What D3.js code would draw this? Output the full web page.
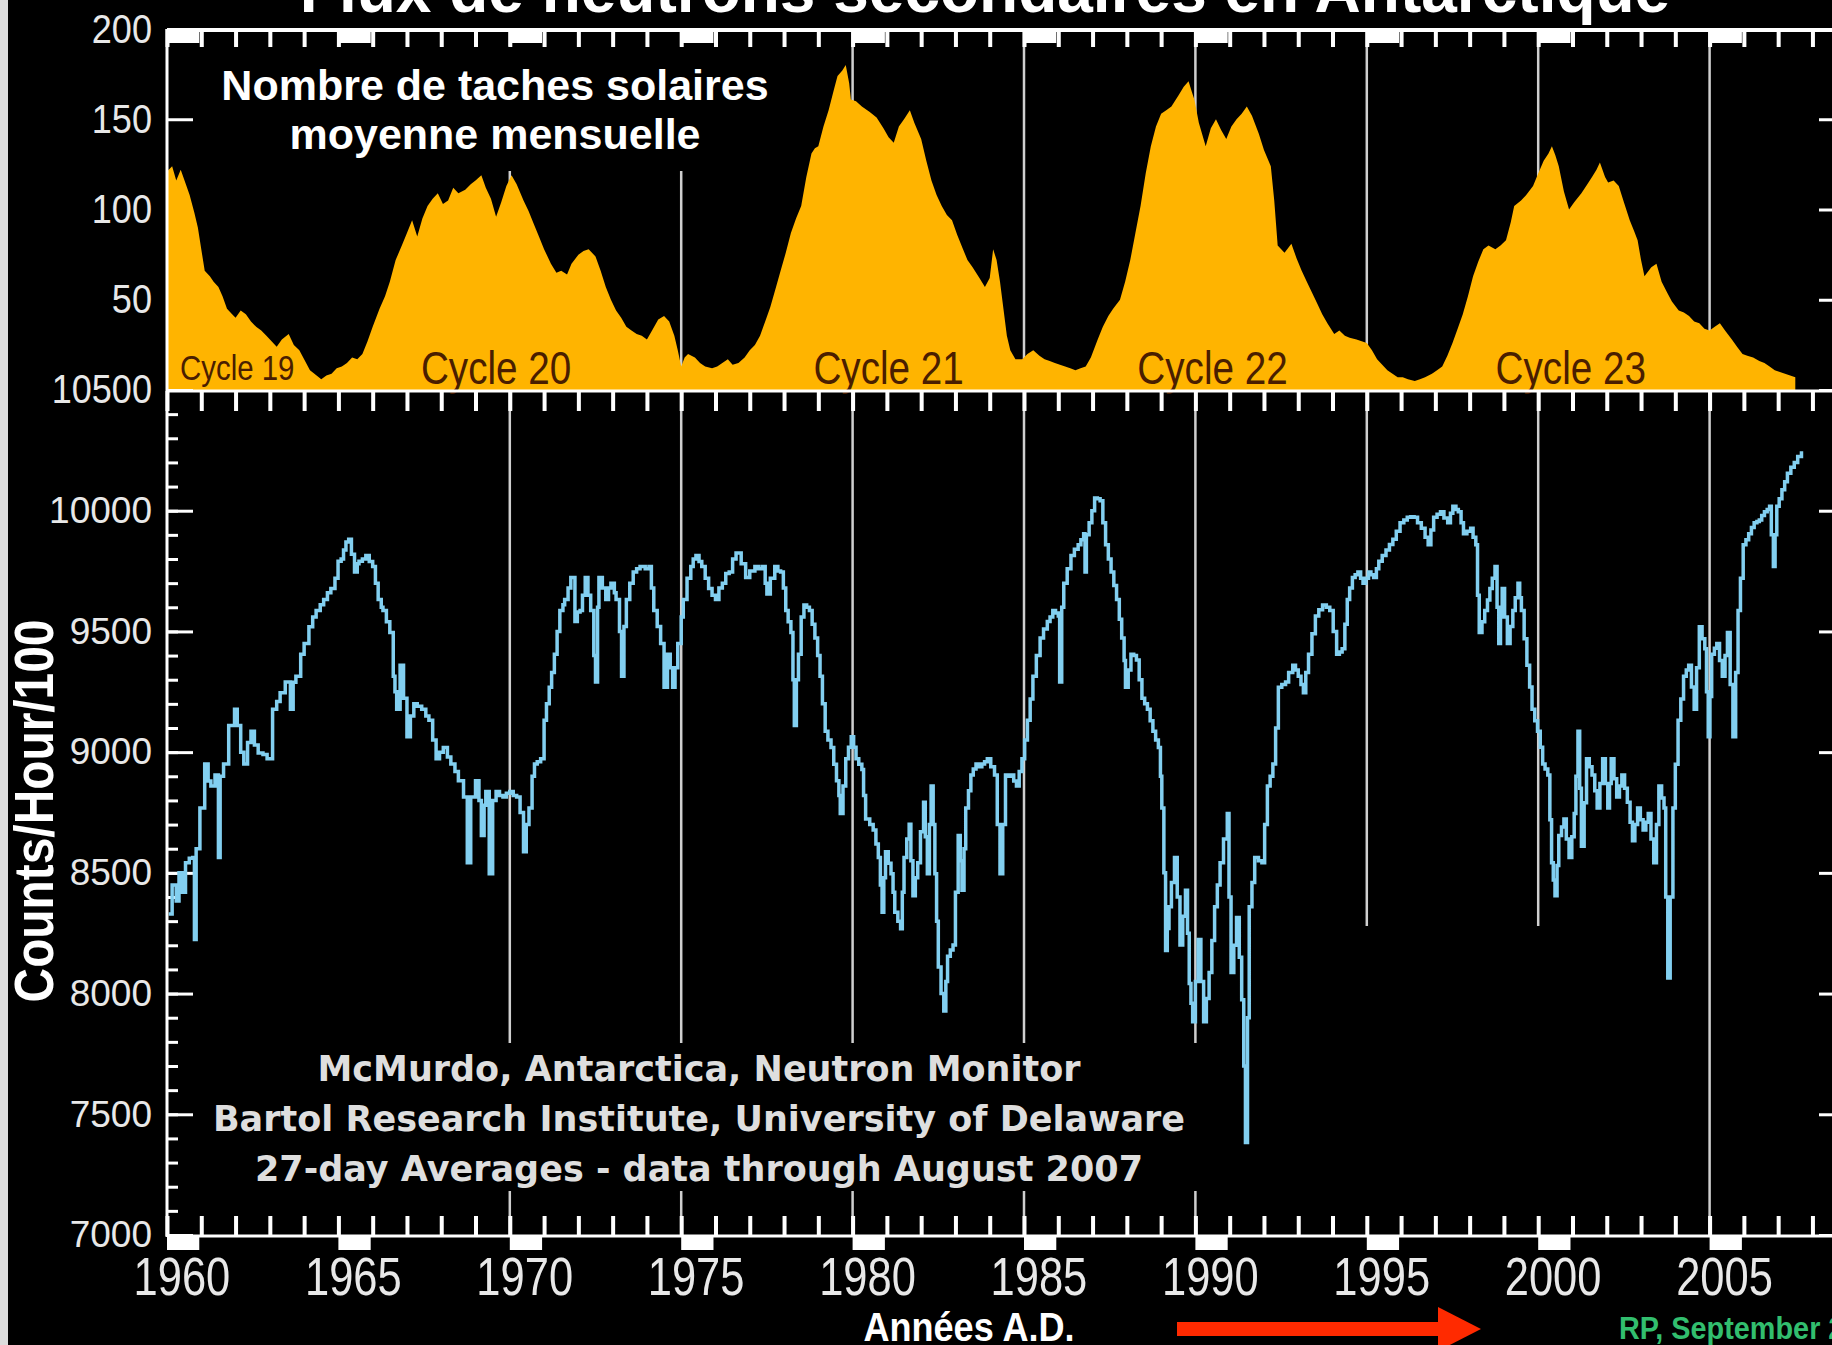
<!DOCTYPE html>
<html lang="fr">
<head>
<meta charset="UTF-8">
<title>Flux de neutrons secondaires en Antarctique</title>
<script src="https://d3js.org/d3.v7.min.js"></script>
<style>
  body { margin: 0; background: #000; }
  .chart { width: 1832px; height: 1345px; overflow: hidden; }
</style>
</head>
<body>
<div class="chart"></div>
<script>
// nombre de taches solaires, moyenne mensuelle
const sunYears = [
  1960.0,1960.15,1960.27,1960.4,1960.55,1960.66,1960.8,1960.9,1961.0,1961.1,1961.25,1961.36,1961.5,1961.62,1961.75,1961.9,
  1962.0,1962.15,1962.3,1962.45,1962.6,1962.75,1962.9,1963.05,1963.2,1963.35,1963.55,1963.7,1963.86,1964.0,1964.17,1964.3,
  1964.5,1964.65,1964.8,1964.95,1965.1,1965.25,1965.4,1965.55,1965.7,1965.85,1966.0,1966.2,1966.36,1966.5,1966.67,1966.85,
  1967.0,1967.15,1967.3,1967.45,1967.6,1967.75,1967.9,1968.05,1968.2,1968.35,1968.5,1968.7,1968.86,1969.0,1969.17,1969.3,
  1969.45,1969.6,1969.75,1969.9,1970.05,1970.2,1970.4,1970.55,1970.7,1970.85,1971.0,1971.2,1971.36,1971.5,1971.67,1971.8,
  1972.0,1972.15,1972.3,1972.5,1972.65,1972.8,1972.95,1973.1,1973.25,1973.4,1973.55,1973.7,1973.85,1974.0,1974.15,1974.33,
  1974.5,1974.65,1974.8,1974.9,1975.0,1975.1,1975.2,1975.4,1975.55,1975.7,1975.9,1976.05,1976.2,1976.36,1976.5,1976.67,
  1976.85,1977.0,1977.15,1977.3,1977.45,1977.6,1977.75,1977.9,1978.05,1978.2,1978.35,1978.5,1978.65,1978.8,1978.9,1979.0,
  1979.15,1979.3,1979.45,1979.56,1979.7,1979.8,1979.9,1979.95,1980.1,1980.27,1980.5,1980.7,1980.9,1981.05,1981.2,1981.35,
  1981.5,1981.67,1981.8,1982.0,1982.15,1982.3,1982.45,1982.6,1982.75,1982.9,1983.05,1983.2,1983.35,1983.5,1983.7,1983.86,
  1984.0,1984.1,1984.2,1984.3,1984.4,1984.5,1984.6,1984.75,1984.95,1985.1,1985.27,1985.45,1985.6,1985.75,1985.9,1986.05,
  1986.2,1986.35,1986.5,1986.65,1986.8,1986.95,1987.15,1987.3,1987.46,1987.6,1987.8,1987.95,1988.1,1988.25,1988.4,1988.55,
  1988.7,1988.85,1989.0,1989.15,1989.3,1989.5,1989.66,1989.8,1989.9,1989.97,1990.1,1990.3,1990.45,1990.6,1990.75,1990.9,
  1991.05,1991.2,1991.35,1991.5,1991.65,1991.85,1992.0,1992.2,1992.3,1992.4,1992.6,1992.8,1992.95,1993.1,1993.25,1993.4,
  1993.55,1993.7,1993.85,1994.05,1994.2,1994.36,1994.5,1994.7,1994.85,1995.0,1995.15,1995.3,1995.45,1995.6,1995.75,1995.9,
  1996.05,1996.2,1996.4,1996.55,1996.7,1996.9,1997.05,1997.2,1997.35,1997.5,1997.65,1997.8,1997.95,1998.1,1998.25,1998.4,
  1998.55,1998.75,1998.9,1999.06,1999.2,1999.3,1999.5,1999.65,1999.85,2000.0,2000.16,2000.3,2000.4,2000.5,2000.6,2000.75,
  2000.9,2001.05,2001.26,2001.4,2001.57,2001.7,2001.8,2001.95,2002.04,2002.2,2002.35,2002.5,2002.67,2002.8,2002.9,2003.0,
  2003.1,2003.3,2003.45,2003.6,2003.76,2003.9,2004.1,2004.25,2004.4,2004.55,2004.7,2004.85,2005.0,2005.15,2005.3,2005.45,
  2005.65,2005.8,2005.96,2006.1,2006.27,2006.45,2006.6,2006.75,2006.9,2007.05,2007.2,2007.35,2007.5
];
const sunValues = [
  121,124,116,122,114,108,98,90,78,66,63,60,57,52,45,42,
  40,44,42,38,35,33,30,27,24,28,31,25,22,17,11,9,
  6,8,9,12,13,15,18,17,20,27,35,45,52,60,72,80,
  87,94,85,95,102,106,109,103,105,112,109,111,114,116,119,112,
  106,96,104,113,119,114,105,99,92,85,78,70,65,66,64,70,
  75,77,78,74,66,57,50,44,40,35,33,31,30,28,33,39,
  41,38,30,22,13,18,20,18,15,13,12,13,15,17,14,15,
  18,22,25,30,38,46,56,66,76,87,95,102,118,131,134,135,
  146,155,166,174,177,180,170,161,160,157,154,151,145,140,137,146,
  150,155,148,139,127,116,108,102,97,94,86,79,72,68,62,57,
  62,78,72,60,45,30,22,17,17,20,22,19,17,16,15,14,
  13,12,11,12,13,18,28,35,41,45,50,60,72,87,102,120,
  135,146,153,155,157,163,168,171,165,161,148,135,145,150,144,139,
  146,150,153,157,152,142,133,124,105,80,76,81,73,66,60,54,
  48,42,37,31,33,30,29,28,27,26,22,17,14,11,9,7,
  7,6,5,6,7,9,11,13,19,26,34,42,52,63,71,78,
  80,78,80,83,93,102,105,108,113,120,127,131,135,130,124,110,
  100,104,109,113,118,122,126,118,115,116,113,104,94,88,83,72,
  63,68,70,60,54,49,44,43,41,38,37,34,33,35,37,33,
  28,24,20,19,18,16,15,13,11,10,9,8,7
];

// McMurdo, moyennes sur 27 jours (coups/heure/100)
const nmYears = [
  1960.05,1960.15,1960.27,1960.35,1960.45,1960.54,1960.65,1960.75,1960.8,1960.85,1960.96,1961.1,1961.2,1961.28,1961.4,1961.5,
  1961.55,1961.65,1961.8,1961.97,1962.05,1962.15,1962.24,1962.35,1962.45,1962.55,1962.66,1962.8,1962.92,1963.08,1963.2,1963.3,
  1963.45,1963.6,1963.68,1963.76,1963.9,1964.0,1964.14,1964.25,1964.35,1964.47,1964.57,1964.68,1964.78,1964.9,1964.99,1965.08,
  1965.15,1965.22,1965.3,1965.38,1965.47,1965.55,1965.6,1965.7,1965.8,1965.9,1966.0,1966.08,1966.16,1966.25,1966.3,1966.4,
  1966.5,1966.6,1966.65,1966.7,1966.8,1966.9,1967.0,1967.1,1967.2,1967.3,1967.43,1967.55,1967.64,1967.75,1967.85,1967.95,
  1968.06,1968.18,1968.28,1968.4,1968.5,1968.65,1968.76,1968.86,1969.0,1969.1,1969.17,1969.25,1969.3,1969.4,1969.5,1969.6,
  1969.7,1969.8,1969.9,1970.0,1970.1,1970.2,1970.3,1970.4,1970.48,1970.56,1970.65,1970.72,1970.8,1970.9,1971.0,1971.07,
  1971.15,1971.22,1971.3,1971.38,1971.46,1971.55,1971.6,1971.7,1971.78,1971.9,1971.97,1972.05,1972.12,1972.2,1972.28,1972.36,
  1972.45,1972.5,1972.56,1972.6,1972.7,1972.8,1972.88,1972.95,1973.05,1973.1,1973.2,1973.26,1973.33,1973.4,1973.5,1973.6,
  1973.7,1973.8,1973.95,1974.06,1974.13,1974.2,1974.3,1974.4,1974.5,1974.6,1974.68,1974.75,1974.82,1974.9,1975.0,1975.06,
  1975.17,1975.28,1975.35,1975.43,1975.52,1975.6,1975.7,1975.8,1975.9,1976.0,1976.1,1976.2,1976.3,1976.4,1976.5,1976.6,
  1976.75,1976.88,1977.0,1977.15,1977.25,1977.36,1977.45,1977.5,1977.6,1977.73,1977.82,1977.9,1977.98,1978.05,1978.12,1978.2,
  1978.26,1978.3,1978.36,1978.42,1978.5,1978.58,1978.66,1978.74,1978.82,1978.9,1978.98,1979.05,1979.12,1979.2,1979.28,1979.37,
  1979.45,1979.53,1979.6,1979.64,1979.72,1979.8,1979.88,1979.96,1980.03,1980.1,1980.18,1980.27,1980.32,1980.38,1980.5,1980.6,
  1980.68,1980.75,1980.81,1980.86,1980.91,1980.96,1981.04,1981.12,1981.18,1981.23,1981.32,1981.4,1981.45,1981.5,1981.58,1981.65,
  1981.7,1981.76,1981.83,1981.9,1981.98,1982.07,1982.12,1982.18,1982.24,1982.29,1982.35,1982.4,1982.45,1982.5,1982.58,1982.66,
  1982.72,1982.77,1982.85,1982.93,1983.0,1983.08,1983.14,1983.19,1983.25,1983.3,1983.38,1983.45,1983.52,1983.6,1983.7,1983.77,
  1983.85,1983.93,1984.03,1984.14,1984.22,1984.3,1984.38,1984.46,1984.55,1984.62,1984.7,1984.78,1984.86,1984.94,1985.02,1985.1,
  1985.18,1985.26,1985.36,1985.47,1985.57,1985.68,1985.76,1985.84,1985.92,1986.0,1986.04,1986.1,1986.16,1986.26,1986.37,1986.47,
  1986.58,1986.66,1986.74,1986.78,1986.82,1986.9,1986.98,1987.06,1987.14,1987.22,1987.3,1987.38,1987.46,1987.54,1987.62,1987.7,
  1987.78,1987.85,1987.92,1987.96,1988.04,1988.12,1988.2,1988.28,1988.36,1988.44,1988.52,1988.6,1988.68,1988.76,1988.84,1988.92,
  1988.98,1989.02,1989.08,1989.13,1989.18,1989.23,1989.3,1989.39,1989.47,1989.55,1989.63,1989.71,1989.77,1989.82,1989.87,1989.92,
  1990.0,1990.08,1990.16,1990.24,1990.32,1990.4,1990.48,1990.56,1990.64,1990.72,1990.82,1990.93,1990.98,1991.04,1991.12,1991.2,
  1991.28,1991.35,1991.41,1991.46,1991.52,1991.57,1991.65,1991.73,1991.84,1991.94,1992.02,1992.1,1992.18,1992.26,1992.34,1992.42,
  1992.52,1992.63,1992.72,1992.84,1992.92,1993.0,1993.08,1993.15,1993.22,1993.3,1993.4,1993.5,1993.6,1993.71,1993.82,1993.92,
  1994.02,1994.12,1994.2,1994.28,1994.36,1994.43,1994.5,1994.58,1994.66,1994.74,1994.82,1994.89,1994.97,1995.05,1995.12,1995.2,
  1995.28,1995.35,1995.45,1995.56,1995.66,1995.76,1995.86,1995.97,1996.08,1996.18,1996.28,1996.38,1996.48,1996.59,1996.7,1996.79,
  1996.87,1996.95,1997.05,1997.15,1997.25,1997.36,1997.44,1997.51,1997.6,1997.67,1997.75,1997.82,1997.92,1998.03,1998.1,1998.18,
  1998.23,1998.28,1998.36,1998.44,1998.52,1998.59,1998.66,1998.74,1998.8,1998.85,1998.9,1998.95,1999.02,1999.1,1999.18,1999.26,
  1999.33,1999.41,1999.46,1999.51,1999.59,1999.67,1999.75,1999.82,1999.9,1999.98,2000.06,2000.13,2000.2,2000.28,2000.34,2000.39,
  2000.44,2000.49,2000.55,2000.6,2000.68,2000.75,2000.82,2000.9,2000.98,2001.05,2001.1,2001.16,2001.21,2001.26,2001.34,2001.41,
  2001.49,2001.57,2001.65,2001.72,2001.8,2001.88,2001.96,2002.03,2002.08,2002.13,2002.21,2002.29,2002.37,2002.44,2002.52,2002.6,
  2002.68,2002.75,2002.82,2002.9,2002.98,2003.06,2003.14,2003.21,2003.29,2003.37,2003.45,2003.52,2003.6,2003.67,2003.72,2003.78,
  2003.85,2003.93,2004.0,2004.08,2004.16,2004.24,2004.32,2004.39,2004.47,2004.55,2004.62,2004.7,2004.78,2004.86,2004.91,2004.96,
  2005.01,2005.06,2005.14,2005.21,2005.29,2005.37,2005.45,2005.52,2005.6,2005.68,2005.76,2005.83,2005.9,2005.98,2006.06,2006.14,
  2006.22,2006.3,2006.38,2006.45,2006.52,2006.6,2006.68,2006.75,2006.8,2006.86,2006.91,2006.96,2007.03,2007.11,2007.19,2007.27,
  2007.37,2007.47,2007.57,2007.68
];
const nmValues = [
  8330,8450,8383,8500,8420,8542,8560,8564,8224,8600,8769,8951,8880,8860,8905,8564,
  8900,8951,9110,9178,9110,9000,8951,9040,9087,9030,8996,8990,8973,9178,9210,9246,
  9291,9178,9290,9314,9405,9450,9519,9560,9587,9610,9632,9660,9678,9720,9791,9800,
  9837,9870,9882,9820,9746,9780,9791,9800,9814,9790,9769,9700,9632,9600,9587,9540,
  9496,9314,9250,9178,9360,9223,9064,9150,9200,9190,9178,9150,9132,9050,8973,9000,
  9019,8980,8951,8920,8882,8814,8542,8814,8882,8800,8655,8780,8837,8496,8800,8837,
  8820,8814,8830,8837,8820,8814,8750,8587,8700,8769,8900,8951,8960,8973,9132,9200,
  9269,9330,9405,9500,9587,9610,9632,9680,9723,9541,9580,9587,9650,9723,9650,9587,
  9400,9291,9600,9723,9680,9632,9680,9700,9660,9632,9500,9314,9520,9632,9700,9746,
  9760,9769,9760,9769,9680,9587,9520,9450,9269,9405,9350,9269,9350,9450,9560,9632,
  9720,9769,9800,9814,9790,9769,9720,9678,9650,9632,9680,9700,9740,9746,9800,9825,
  9780,9723,9750,9769,9760,9769,9700,9655,9720,9769,9750,9746,9680,9587,9540,9496,
  9300,9110,9300,9405,9560,9609,9600,9587,9530,9473,9400,9314,9200,9087,9050,9019,
  8950,8882,8820,8746,8860,8973,9020,9064,9020,8973,8950,8928,8820,8723,8700,8678,
  8620,8564,8450,8337,8480,8587,8540,8496,8420,8337,8300,8269,8420,8564,8640,8701,
  8550,8405,8480,8542,8670,8792,8650,8496,8700,8860,8700,8496,8300,8110,8000,7928,
  8050,8155,8180,8201,8420,8655,8550,8428,8600,8769,8840,8905,8930,8951,8940,8951,
  8960,8973,8940,8905,8700,8496,8700,8905,8900,8905,8880,8860,8920,8973,9050,9132,
  9220,9314,9400,9473,9510,9541,9560,9587,9576,9564,9291,9600,9700,9760,9814,9840,
  9859,9880,9905,9746,9900,9950,10000,10053,10050,10041,9950,9859,9800,9746,9690,9632,
  9550,9473,9380,9269,9340,9405,9400,9382,9300,9223,9200,9178,9130,9087,9050,9019,
  8900,8769,8500,8178,8270,8360,8460,8564,8400,8201,8320,8428,8250,8042,7960,7883,
  8050,8224,8050,7883,7980,8087,8220,8360,8450,8542,8640,8746,8400,8087,8200,8315,
  8150,7974,7700,7383,7900,8360,8460,8564,8550,8542,8700,8860,8900,8951,9100,9269,
  9280,9291,9330,9360,9340,9314,9280,9246,9330,9405,9490,9564,9590,9609,9600,9587,
  9500,9405,9415,9428,9530,9632,9680,9723,9735,9746,9720,9700,9720,9746,9735,9723,
  9760,9791,9815,9837,9860,9882,9915,9950,9962,9973,9975,9973,9950,9927,9890,9859,
  9920,9973,9985,9996,9970,9950,9990,10018,10005,9996,9950,9905,9915,9927,9890,9859,
  9650,9496,9540,9587,9630,9678,9720,9769,9600,9450,9560,9678,9560,9450,9520,9587,
  9640,9700,9640,9587,9470,9360,9270,9178,9130,9087,9020,8951,8930,8905,8720,8542,
  8470,8405,8530,8655,8690,8723,8640,8564,8650,8746,8900,9087,8850,8610,8790,8973,
  8940,8905,8840,8769,8870,8973,8870,8769,8870,8973,8890,8814,8860,8905,8850,8792,
  8710,8633,8700,8769,8720,8678,8710,8746,8640,8542,8700,8860,8810,8769,8400,8065,
  8400,8769,8950,9132,9220,9314,9340,9360,9270,9178,9350,9519,9470,9428,9250,9064,
  9230,9405,9430,9450,9380,9314,9400,9496,9280,9064,9330,9587,9720,9859,9880,9905,
  9930,9950,9955,9962,9980,9996,10005,10018,9900,9769,9900,10018,10050,10087,10120,10155,
  10180,10200,10225,10246
];

const yearLabels = [1960, 1965, 1970, 1975, 1980, 1985, 1990, 1995, 2000, 2005];
const sunTickLabels = [200, 150, 100, 50];
const nmTickLabels = [10000, 9500, 9000, 8500, 8000, 7500, 7000];
const cycleNames = ['Cycle 19', 'Cycle 20', 'Cycle 21', 'Cycle 22', 'Cycle 23'];
const cycleYears = [1962.05, 1969.6, 1981.05, 1990.5, 2000.95];
const gridYears = [1970, 1975, 1980, 1985, 1990, 1995, 2000, 2005];
const gridShortYears = [1995, 2000];   // lignes qui s'arrêtent vers 8280
const textNeutron = [
  'McMurdo, Antarctica, Neutron Monitor',
  'Bartol Research Institute, University of Delaware',
  '27-day Averages - data through August 2007'
];

const W = 1832, H = 1345;
const helv = '"Liberation Sans", Arial, Helvetica, sans-serif';

// pas de police étroite installée : on resserre le texte à la main
function condense(sel, k) {
  sel.each(function () {
    const w = this.getComputedTextLength();
    d3.select(this).attr('textLength', w * k).attr('lengthAdjust', 'spacingAndGlyphs');
  });
}

const svg = d3.select('.chart').append('svg')
  .attr('width', W).attr('height', H)
  .style('display', 'block');

svg.append('rect').attr('width', W).attr('height', H).attr('fill', '#000');
svg.append('rect').attr('width', 8).attr('height', H).attr('fill', '#dcdcdc');

// echelles
const x = d3.scaleLinear().domain([1960, 2010]).range([167, 1881]);
const yTop = d3.scaleLinear().domain([0, 200]).range([390, 29]);
const yBot = d3.scaleLinear().domain([7000, 10500]).range([1235, 390]);

// titre (coupé en haut)
svg.append('text')
  .attr('x', 985).attr('y', 12)
  .attr('text-anchor', 'middle')
  .attr('font-family', helv).attr('font-weight', 'bold').attr('font-size', 64)
  .attr('fill', '#fff')
  .text('Flux de neutrons secondaires en Antarctique');

// --- panneau du haut ---
const gridColor = '#cfcfcf';
svg.append('g').selectAll('line').data(gridYears).join('line')
  .attr('x1', d => x(d)).attr('x2', d => x(d))
  .attr('y1', yTop(200)).attr('y2', yTop(0))
  .attr('stroke', gridColor).attr('stroke-width', 2.5);

svg.append('g')
  .attr('transform', `translate(${x(1960)},0)`)
  .call(d3.axisRight(yTop).tickValues([50, 100, 150]).tickSize(26).tickFormat(''))
  .call(g => g.select('.domain').remove())
  .selectAll('line').attr('stroke', '#fff').attr('stroke-width', 3);
svg.append('g')
  .attr('transform', `translate(1845,0)`)
  .call(d3.axisLeft(yTop).tickValues([50, 100, 150]).tickSize(26).tickFormat(''))
  .call(g => g.select('.domain').remove())
  .selectAll('line').attr('stroke', '#fff').attr('stroke-width', 3);

const sunData = sunYears.map((t, i) => ({ t, v: sunValues[i] }));
const sunArea = d3.area()
  .x(d => x(d.t))
  .y0(yTop(0))
  .y1(d => yTop(d.v));
svg.append('path')
  .datum(sunData)
  .attr('d', sunArea)
  .attr('fill', '#ffb400');

svg.append('rect')
  .attr('x', 197).attr('y', 46).attr('width', 578).attr('height', 125)
  .attr('fill', '#000');
svg.append('g').selectAll('text').data(['Nombre de taches solaires', 'moyenne mensuelle']).join('text')
  .attr('x', 495).attr('y', (d, i) => 100 + i * 49)
  .attr('text-anchor', 'middle')
  .attr('font-family', helv).attr('font-weight', 'bold').attr('font-size', 43)
  .attr('fill', '#fff')
  .text(d => d);

svg.append('g').selectAll('text').data(cycleNames).join('text')
  .attr('x', (d, i) => x(cycleYears[i]))
  .attr('y', (d, i) => i === 0 ? 380 : 384)
  .attr('text-anchor', 'middle')
  .attr('font-family', helv).attr('font-size', (d, i) => i === 0 ? 35 : 46)
  .attr('fill', '#4a1e00')
  .text(d => d)
  .call(condense, 0.84);

// --- panneau du bas ---
svg.append('g').selectAll('line').data(gridYears).join('line')
  .attr('x1', d => x(d)).attr('x2', d => x(d))
  .attr('y1', yBot(10500))
  .attr('y2', d => gridShortYears.includes(d) ? yBot(8280) : yBot(7000))
  .attr('stroke', gridColor).attr('stroke-width', 2.5);

const minorTicks = d3.range(7000, 10501, 100);
const majorTicks = d3.range(7000, 10501, 500);
[[d3.axisRight, x(1960)], [d3.axisLeft, 1845]].forEach(([axisFn, px]) => {
  svg.append('g')
    .attr('transform', `translate(${px},0)`)
    .call(axisFn(yBot).tickValues(minorTicks).tickSize(11).tickFormat(''))
    .call(g => g.select('.domain').remove())
    .selectAll('line').attr('stroke', '#fff').attr('stroke-width', 3);
  svg.append('g')
    .attr('transform', `translate(${px},0)`)
    .call(axisFn(yBot).tickValues(majorTicks).tickSize(26).tickFormat(''))
    .call(g => g.select('.domain').remove())
    .selectAll('line').attr('stroke', '#fff').attr('stroke-width', 3);
});

const nmData = nmYears.map((t, i) => ({ t, v: nmValues[i] }));
const nmLine = d3.line()
  .x(d => x(d.t))
  .y(d => yBot(d.v))
  .curve(d3.curveStepAfter);
svg.append('path')
  .datum(nmData)
  .attr('d', nmLine)
  .attr('fill', 'none')
  .attr('stroke', '#82cff0')
  .attr('stroke-width', 3.5)
  .attr('stroke-linejoin', 'miter');

svg.append('rect')
  .attr('x', 195).attr('y', 1043).attr('width', 1008).attr('height', 148)
  .attr('fill', '#000');
svg.append('g').selectAll('text').data(textNeutron).join('text')
  .attr('x', 699).attr('y', (d, i) => 1081 + i * 50)
  .attr('text-anchor', 'middle')
  .attr('font-family', '"DejaVu Sans", Verdana, sans-serif')
  .attr('font-weight', 'bold').attr('font-size', 35)
  .attr('fill', '#dedede')
  .text(d => d);

// --- axes ---
const allYears = d3.range(1960, 2011);

// bord supérieur
svg.append('line').attr('x1', x(1960)).attr('x2', W).attr('y1', 30).attr('y2', 30)
  .attr('stroke', '#fff').attr('stroke-width', 4);
svg.append('g').attr('transform', 'translate(0,29)')
  .call(d3.axisBottom(x).tickValues(allYears).tickSize(18).tickFormat(''))
  .call(g => g.select('.domain').remove())
  .selectAll('line').attr('stroke', '#fff').attr('stroke-width', 4);
svg.append('g').selectAll('rect').data(yearLabels).join('rect')
  .attr('x', d => x(d)).attr('y', 29)
  .attr('width', x(1961) - x(1960) - 2).attr('height', 14)
  .attr('fill', '#fff');

// ligne médiane
svg.append('line').attr('x1', x(1960)).attr('x2', W).attr('y1', 391).attr('y2', 391)
  .attr('stroke', '#fff').attr('stroke-width', 3);
svg.append('g').attr('transform', 'translate(0,391)')
  .call(d3.axisBottom(x).tickValues(allYears).tickSize(20).tickFormat(''))
  .call(g => g.select('.domain').remove())
  .selectAll('line').attr('stroke', '#fff').attr('stroke-width', 4);

// axe du bas
svg.append('line').attr('x1', x(1960)).attr('x2', W).attr('y1', 1236).attr('y2', 1236)
  .attr('stroke', '#fff').attr('stroke-width', 3);
svg.append('g').attr('transform', 'translate(0,1236)')
  .call(d3.axisTop(x).tickValues(allYears).tickSize(20).tickFormat(''))
  .call(g => g.select('.domain').remove())
  .selectAll('line').attr('stroke', '#fff').attr('stroke-width', 4);
svg.append('g').selectAll('rect').data(yearLabels).join('rect')
  .attr('x', d => x(d)).attr('y', 1236)
  .attr('width', x(1961) - x(1960) - 2).attr('height', 14)
  .attr('fill', '#fff');

// axe gauche
svg.append('line').attr('x1', x(1960)).attr('x2', x(1960)).attr('y1', 29).attr('y2', 1237)
  .attr('stroke', '#fff').attr('stroke-width', 3);

// étiquettes
const labelColor = '#e8e8e8';
svg.append('g')
  .attr('transform', `translate(${x(1960)},0)`)
  .call(d3.axisLeft(yTop).tickValues(sunTickLabels).tickSize(0).tickPadding(15))
  .call(g => g.select('.domain').remove())
  .selectAll('text')
  .attr('font-family', helv).attr('font-size', 41).attr('fill', labelColor)
  .call(condense, 0.88);
svg.append('text')
  .attr('x', x(1960) - 15).attr('y', yBot(10500)).attr('dy', '0.32em')
  .attr('text-anchor', 'end')
  .attr('font-family', helv).attr('font-size', 41).attr('fill', labelColor)
  .text('10500')
  .call(condense, 0.88);
svg.append('g')
  .attr('transform', `translate(${x(1960)},0)`)
  .call(d3.axisLeft(yBot).tickValues(nmTickLabels).tickSize(0).tickPadding(15).tickFormat(d3.format('d')))
  .call(g => g.select('.domain').remove())
  .selectAll('text')
  .attr('font-family', helv).attr('font-size', 37).attr('fill', labelColor);

svg.append('g')
  .attr('transform', `translate(${x(1960.42) - x(1960)},1236)`)
  .call(d3.axisBottom(x).tickValues(yearLabels).tickSize(0).tickFormat(d3.format('d')))
  .call(g => g.select('.domain').remove())
  .selectAll('text')
  .attr('y', 59).attr('dy', 0)
  .attr('font-family', helv).attr('font-size', 53).attr('fill', labelColor)
  .call(condense, 0.82);

svg.append('text')
  .attr('transform', 'translate(53,811) rotate(-90)')
  .attr('text-anchor', 'middle')
  .attr('font-family', helv).attr('font-weight', 'bold').attr('font-size', 55)
  .attr('fill', '#fff')
  .text('Counts/Hour/100')
  .call(condense, 0.87);

svg.append('text')
  .attr('x', 969).attr('y', 1341)
  .attr('text-anchor', 'middle')
  .attr('font-family', helv).attr('font-weight', 'bold').attr('font-size', 41)
  .attr('fill', '#fff')
  .text('Années A.D.')
  .call(condense, 0.88);

// flèche rouge
svg.append('rect').attr('x', 1177).attr('y', 1322).attr('width', 263).attr('height', 14)
  .attr('fill', '#ff2a00');
svg.append('path').attr('d', 'M1438,1307 L1481,1329 L1438,1351 Z').attr('fill', '#ff2a00');

svg.append('text')
  .attr('x', 1619).attr('y', 1339)
  .attr('font-family', helv).attr('font-weight', 'bold').attr('font-size', 31)
  .attr('fill', '#32be6e')
  .text('RP, September 2007')
  .call(condense, 0.93);
</script>
</body>
</html>
